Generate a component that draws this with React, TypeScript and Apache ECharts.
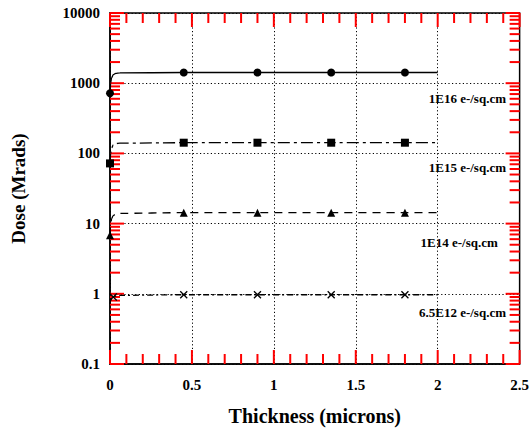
import React, { useEffect, useRef } from "react";
import * as echarts from "echarts";

// Thickness (microns) sample points shared by all curves
const thickness = [0, 0.004, 0.01, 0.02, 0.035, 0.06, 0.45, 0.9, 1.35, 1.8, 2.0];
// Dose (Mrads) per fluence
const dose1E16 = [720, 1000, 1200, 1320, 1380, 1400, 1420, 1420, 1420, 1420, 1420];
const dose1E15 = [72, 100, 120, 132, 138, 140, 142, 142, 142, 142, 142];
const dose1E14 = [6.8, 9.5, 11.8, 13.0, 13.7, 14.0, 14.3, 14.3, 14.3, 14.3, 14.3];
const dose65E12 = [0.72, 0.8, 0.86, 0.9, 0.93, 0.95, 0.97, 0.97, 0.97, 0.97, 0.97];
// indices of points that carry a marker
const markers = [0, 6, 7, 8, 9];
const markers65E12 = [3, 6, 7, 8, 9];

const seriesNames = ["1E16 e-/sq.cm", "1E15 e-/sq.cm", "1E14 e-/sq.cm", "6.5E12 e-/sq.cm"];
// where the curve labels sit (data space)
const labelX = [2.42, 2.42, 2.37, 2.42];
const labelY = [611, 62, 5.4, 0.55];

const xTickLabels = ["0", "0.5", "1", "1.5", "2", "2.5"];
const yTickLabels = ["0.1", "1", "10", "100", "1000", "10000"];

const FONT = "'Liberation Serif', 'Times New Roman', serif";
const TICK_COLOR = "red";

export default function App() {
  const ref = useRef<HTMLDivElement>(null);
  useEffect(() => {
    if (!ref.current) return;
    const chart = echarts.init(ref.current, undefined, { renderer: "svg" });

    // tick items: [x, y, side, length]; side 0 left, 1 right, 2 bottom, 3 top
    const ticks: number[][] = [];
    for (let d = -1; d <= 3; d++) {
      for (let k = 1; k <= 9; k++) {
        const v = k * Math.pow(10, d);
        const len = k === 1 ? 7 : 5;
        ticks.push([0.5, v, 0, len], [0.5, v, 1, len]);
      }
    }
    ticks.push([0.5, 10000, 0, 7], [0.5, 10000, 1, 7]);
    for (let i = 0; i <= 25; i++) {
      const x = i / 10;
      const len = i % 5 === 0 ? 7 : 5;
      ticks.push([x, 1, 2, len], [x, 1, 3, len]);
    }

    const mk = (vals: number[], idx: number[], sym: string) =>
      thickness.map((x, i) => ({
        value: [x, vals[i]],
        symbol: idx.includes(i) ? sym : "none",
      }));

    const crossPath = "path://M0,0L10,10M10,0L0,10";
    const styles = [
      { vals: dose1E16, sym: "circle", size: 8, type: "solid" as any, idx: markers },
      { vals: dose1E15, sym: "rect", size: 8, type: [12, 4, 3, 4], idx: markers },
      { vals: dose1E14, sym: "triangle", size: 8, type: [8, 6], idx: markers },
      { vals: dose65E12, sym: crossPath, size: 7, type: [6, 3, 2, 3], idx: markers65E12 },
    ];

    const lineSeries = styles.map((s, si) => ({
      type: "line",
      name: seriesNames[si],
      data: mk(s.vals, s.idx, s.sym),
      smooth: 0.3,
      smoothMonotone: "x",
      symbolSize: s.size,
      lineStyle: { color: "#000", width: 1.3, type: s.type },
      itemStyle:
        si === 3
          ? { color: "rgba(0,0,0,0)", borderColor: "#000", borderWidth: 1.3 }
          : { color: "#000", borderColor: "#000", borderWidth: 0 },
      z: 5,
      markPoint: {
        symbol: "circle",
        symbolSize: 1,
        itemStyle: { color: "rgba(0,0,0,0)" },
        label: {
          show: true,
          position: "left",
          distance: 0,
          formatter: seriesNames[si],
          color: "#000",
          fontFamily: FONT,
          fontWeight: "bold",
          fontSize: 13,
        },
        data: [{ coord: [labelX[si], labelY[si]] }],
      },
    }));

    const axisLabelStyle = {
      color: "#000",
      fontFamily: FONT,
      fontWeight: "bold",
      fontSize: 15,
    };

    chart.setOption({
      animation: false,
      backgroundColor: "#fff",
      grid: {
        left: 110,
        right: 12,
        top: 13,
        bottom: 67,
        containLabel: false,
        show: true,
        borderColor: "#000",
        borderWidth: 1.5,
        backgroundColor: "rgba(0,0,0,0)",
      },
      xAxis: {
        type: "value",
        min: 0,
        max: 2.5,
        interval: 0.5,
        axisLine: { show: true, lineStyle: { color: "#000", width: 1.5 } },
        axisTick: { show: false },
        splitLine: { show: true, lineStyle: { color: "#000", type: [1.2, 2.4], width: 1 } },
        axisLabel: {
          ...axisLabelStyle,
          margin: 13,
          formatter: (v: number) => xTickLabels[Math.round(v / 0.5)] ?? "",
        },
        name: "Thickness (microns)",
        nameLocation: "middle",
        nameGap: 42,
        nameTextStyle: { color: "#000", fontFamily: FONT, fontWeight: "bold", fontSize: 20 },
      },
      yAxis: {
        type: "log",
        logBase: 10,
        min: 0.1,
        max: 10000,
        axisLine: { show: true, lineStyle: { color: "#000", width: 1.5 } },
        axisTick: { show: false },
        splitLine: { show: true, lineStyle: { color: "#000", type: [1.2, 2.4], width: 1 } },
        axisLabel: {
          ...axisLabelStyle,
          margin: 10,
          formatter: (v: number) => yTickLabels[Math.round(Math.log10(v)) + 1] ?? "",
        },
        name: "Dose (Mrads)",
        nameLocation: "middle",
        nameGap: 82,
        nameTextStyle: { color: "#000", fontFamily: FONT, fontWeight: "bold", fontSize: 19 },
      },
      series: [
        {
          type: "custom",
          clip: false,
          data: ticks,
          encode: { x: 0, y: 1 },
          renderItem: (params: any, api: any) => {
            const cs = params.coordSys;
            const p = api.coord([api.value(0), api.value(1)]);
            const side = api.value(2);
            const len = api.value(3) * 2;
            let shape;
            if (side === 0) shape = { x1: cs.x, y1: p[1], x2: cs.x + len, y2: p[1] };
            else if (side === 1)
              shape = { x1: cs.x + cs.width - len, y1: p[1], x2: cs.x + cs.width, y2: p[1] };
            else if (side === 2)
              shape = { x1: p[0], y1: cs.y + cs.height, x2: p[0], y2: cs.y + cs.height - len };
            else shape = { x1: p[0], y1: cs.y, x2: p[0], y2: cs.y + len };
            return { type: "line", shape, style: { stroke: TICK_COLOR, lineWidth: 2 } };
          },
        },
        ...lineSeries,
      ],
    });
    return () => chart.dispose();
  }, []);
  return (
    <div
      ref={ref}
      style={{ position: "fixed", left: 0, top: 0, width: 532, height: 431, background: "#fff" }}
    />
  );
}
